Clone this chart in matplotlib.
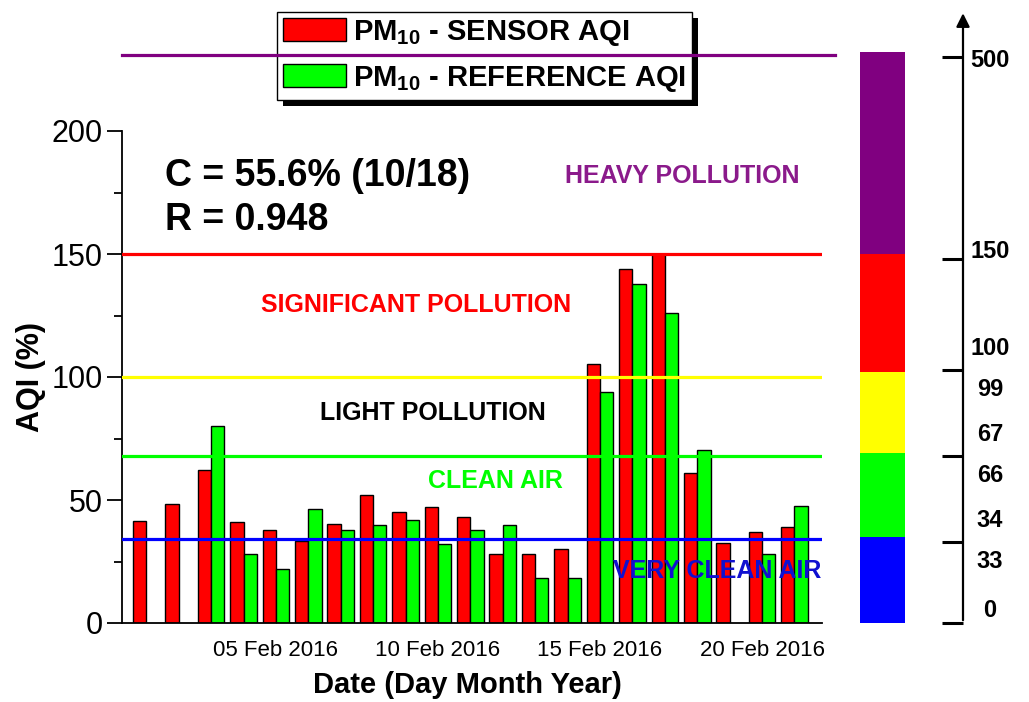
import matplotlib as mpl
mpl.use('Agg')
import matplotlib.pyplot as plt
import matplotlib.dates as mdates
import matplotlib.transforms as mtransforms
from matplotlib.patches import Rectangle, Patch
from matplotlib.lines import Line2D
from matplotlib.ticker import MultipleLocator
import numpy as np
import pandas as pd

plt.rcParams['font.family'] = ['Liberation Sans', 'DejaVu Sans']
plt.rcParams['mathtext.fontset'] = 'custom'
plt.rcParams['mathtext.rm'] = 'Liberation Sans:bold'
plt.rcParams['mathtext.it'] = 'Liberation Sans:bold'

# daily PM10 AQI, sensor vs reference station
dates = pd.date_range('2016-02-01', '2016-02-21', freq='D')
sensor_aqi = [41.5, 48.5, 62, 41, 37.8, 33.3, 40.2, 52, 45, 47.3, 43.2,
              28, 28, 30, 105.3, 143.9, 150, 61, 32.5, 37, 39]
reference_aqi = [np.nan, np.nan, 80, 28, 22, 46.3, 37.8, 39.8, 42, 32, 37.8,
                 39.8, 18.3, 18.3, 94, 138, 126, 70.3, np.nan, 28, 47.6]

# AQI class limits drawn across the plot
levels = [34, 68, 100, 150]
level_colors = ['#0000ff', '#00ff00', '#ffff00', '#ff0000']
top_level = 231

# colour scale on the right
band_edges = [0, 35, 69, 102, 150, 232]
band_colors = ['#0000ff', '#00ff00', '#ffff00', '#ff0000', '#800080']
scale_ticks = [0, 33, 68, 103, 148, 230]
scale_upper = ['0', '34', '67', '100', '150', '500']
scale_lower = ['', '33', '66', '99', '', '']

fig = plt.figure(figsize=(10.29, 7.02), dpi=100)
ax = fig.add_axes([122/1029, 1-623/702, 700/1029, 492/702])

x = mdates.date2num(dates)
sensor = np.array(sensor_aqi)
ref = np.array(reference_aqi)
w = 0.41
ax.bar(x - w/2, sensor, w, color='#ff0000', edgecolor='black', lw=1, zorder=2)
m = ~np.isnan(ref)
ax.bar(x[m] + w/2, ref[m], w, color='#00ff00', edgecolor='black', lw=1, zorder=2)

for lv, c in zip(levels, level_colors):
    ax.axhline(lv, color=c, lw=2.3, zorder=3)

ax.set_xlim(x[0] - 0.75, x[-1] + 0.85)
ax.set_ylim(0, 200)
ax.spines['top'].set_visible(False)
ax.spines['right'].set_visible(False)
ax.spines['left'].set_linewidth(1.3)
ax.spines['bottom'].set_linewidth(1.3)

tick_days = [4, 9, 14, 19]
ax.set_xticks(x[tick_days])
ax.set_xticklabels([dates[i].strftime('%d %b %Y') for i in tick_days], fontsize=16)
ax.tick_params(axis='x', direction='in', length=4, pad=12)
ax.yaxis.set_major_locator(MultipleLocator(50))
ax.yaxis.set_minor_locator(MultipleLocator(25))
ax.tick_params(axis='y', which='major', length=11, width=1.3, labelsize=22, pad=3)
ax.tick_params(axis='y', which='minor', length=6, width=1.3)

ax.set_ylabel('AQI (%)', fontsize=22, fontweight='bold')
ax.yaxis.set_label_coords(-0.108, 0.5)
ax.set_xlabel('Date (Day Month Year)', fontsize=21, fontweight='bold')
ax.xaxis.set_label_coords(0.493, -0.098)

ax.text(0.061, 0.908, 'C = 55.6% (10/18)', transform=ax.transAxes, fontsize=27,
        fontweight='bold', va='center', ha='left')
ax.text(0.061, 0.819, 'R = 0.948', transform=ax.transAxes, fontsize=27,
        fontweight='bold', va='center', ha='left')

classes = [('HEAVY POLLUTION', '#8b1a8b', 0.801, 0.909),
           ('SIGNIFICANT POLLUTION', '#ff0000', 0.420, 0.646),
           ('LIGHT POLLUTION', 'black', 0.444, 0.427),
           ('CLEAN AIR', '#00ff00', 0.534, 0.289),
           ('VERY CLEAN AIR', '#1010d0', 0.850, 0.106)]
for txt, c, tx, ty in classes:
    ax.text(tx, ty, txt, transform=ax.transAxes, color=c, fontsize=18,
            fontweight='bold', ha='center', va='center', zorder=5)

# colour bar and AQI scale
cax = fig.add_axes([855/1029, 1-623/702, 174/1029, 492/702])
cax.set_xlim(0, 174)
cax.set_ylim(0, 200)
cax.axis('off')
cax.bar(27.5, np.diff(band_edges), bottom=band_edges[:-1], width=45,
        color=band_colors, clip_on=False)
cax.annotate('', xy=(108, 249), xytext=(108, 0),
             arrowprops=dict(arrowstyle='-|>', mutation_scale=20, lw=1.6, color='black'),
             annotation_clip=False)
cax.hlines(scale_ticks, 87, 108, color='black', lw=2.2, clip_on=False)
up_off = {0: 5, 148: 3, 230: -1.5}
for t, up, lo in zip(scale_ticks, scale_upper, scale_lower):
    cax.text(135, t + up_off.get(t, 8.5), up, fontsize=17, fontweight='bold',
             ha='center', va='center', clip_on=False)
    if lo:
        cax.text(135, t - 8, lo, fontsize=17, fontweight='bold',
                 ha='center', va='center', clip_on=False)

handles = [Patch(facecolor='#ff0000', edgecolor='black'),
           Patch(facecolor='#00ff00', edgecolor='black')]
leg = fig.legend(handles, ['PM$_{10}$ - SENSOR AQI', 'PM$_{10}$ - REFERENCE AQI'],
                 loc='upper left', bbox_to_anchor=(277/1029, 1-12/702),
                 fancybox=False, framealpha=1, edgecolor='black',
                 prop=dict(weight='bold', size=21), borderpad=0.2,
                 labelspacing=0.55, handlelength=2.15, handleheight=0.85,
                 handletextpad=0.25, borderaxespad=0)
leg.get_frame().set_linewidth(1.0)

fig.canvas.draw()
bb = leg.get_window_extent()
fig.add_artist(Rectangle((bb.x0 + 6, bb.y0 - 6), bb.width, bb.height,
                         facecolor='black', edgecolor='none',
                         transform=mtransforms.IdentityTransform(), zorder=4.5))

blend = mtransforms.blended_transform_factory(ax.transAxes, ax.transData)
fig.add_artist(Line2D([0, 1.019], [top_level, top_level], transform=blend,
                      color='#800080', lw=2.3, zorder=6))

fig.savefig('out.png', dpi=100)
